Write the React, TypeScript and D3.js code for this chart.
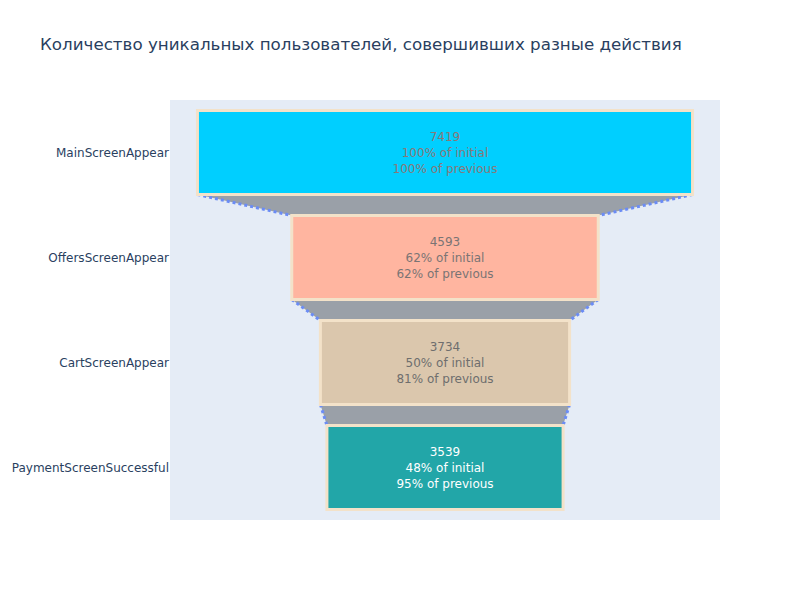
import React from "react";
import * as d3 from "d3";

const stages = ["MainScreenAppear", "OffersScreenAppear", "CartScreenAppear", "PaymentScreenSuccessful"];
const users = [7419, 4593, 3734, 3539];
const pctInitial = ["100%", "62%", "50%", "48%"];
const pctPrevious = ["100%", "62%", "81%", "95%"];
const barColors = ["#00cfff", "#ffb5a0", "#dbc7ad", "#22a6a8"];
const textColors = ["#8a7878", "#7a7474", "#6e6e6e", "#ffffff"];

const W = 800, H = 600;
const left = 170, right = 720, top = 100, bottom = 520;
const FONT = "'DejaVu Sans', Verdana, sans-serif";

export default function App() {
  const y = d3.scaleBand<string>().domain(stages).range([top, bottom]).paddingInner(0.2).paddingOuter(0.1);
  const x = d3.scaleLinear().domain([-4121, 4121]).range([left, right]);
  const bw = y.bandwidth();

  const connectors = users.slice(0, -1).map((v, i) => {
    const v2 = users[i + 1];
    const y1 = (y(stages[i]) as number) + bw;
    const y2 = y(stages[i + 1]) as number;
    return { i, x1l: x(-v / 2), x1r: x(v / 2), x2l: x(-v2 / 2), x2r: x(v2 / 2), y1, y2 };
  });

  return (
    <svg width={W} height={H} style={{ position: "absolute", left: 0, top: 0, background: "#fff" }}>
      <text x={40} y={50} fontFamily={FONT} fontSize={16.7} fill="#2a3f5f">
        Количество уникальных пользователей, совершивших разные действия
      </text>
      <rect x={left} y={top} width={right - left} height={bottom - top} fill="#e5ecf6" />
      {connectors.map((c) => (
        <g key={"c" + c.i}>
          <path
            d={`M${c.x1l},${c.y1}L${c.x1r},${c.y1}L${c.x2r},${c.y2}L${c.x2l},${c.y2}Z`}
            fill="#9aa0a8"
          />
          <line x1={c.x1l} y1={c.y1} x2={c.x2l} y2={c.y2} stroke="#6b8cf5" strokeWidth={3} strokeDasharray="3,3" />
          <line x1={c.x1r} y1={c.y1} x2={c.x2r} y2={c.y2} stroke="#6b8cf5" strokeWidth={3} strokeDasharray="3,3" />
        </g>
      ))}
      {users.map((v, i) => {
        const y0 = y(stages[i]) as number;
        const cx = x(0);
        const cy = y0 + bw / 2;
        return (
          <g key={"b" + i}>
            <rect x={x(-v / 2)} y={y0} width={x(v / 2) - x(-v / 2)} height={bw} fill={barColors[i]} stroke="#f3e2c9" strokeWidth={3} />
            <text textAnchor="middle" fontFamily={FONT} fontSize={12} fill={textColors[i]}>
              <tspan x={cx} y={cy - 11.5}>{v}</tspan>
              <tspan x={cx} y={cy + 4.5}>{pctInitial[i]} of initial</tspan>
              <tspan x={cx} y={cy + 20.5}>{pctPrevious[i]} of previous</tspan>
            </text>
          </g>
        );
      })}
      {stages.map((s) => (
        <text key={s} x={left - 1} y={(y(s) as number) + bw / 2 + 4.5} textAnchor="end" fontFamily={FONT} fontSize={12} fill="#2a3f5f">
          {s}
        </text>
      ))}
    </svg>
  );
}
